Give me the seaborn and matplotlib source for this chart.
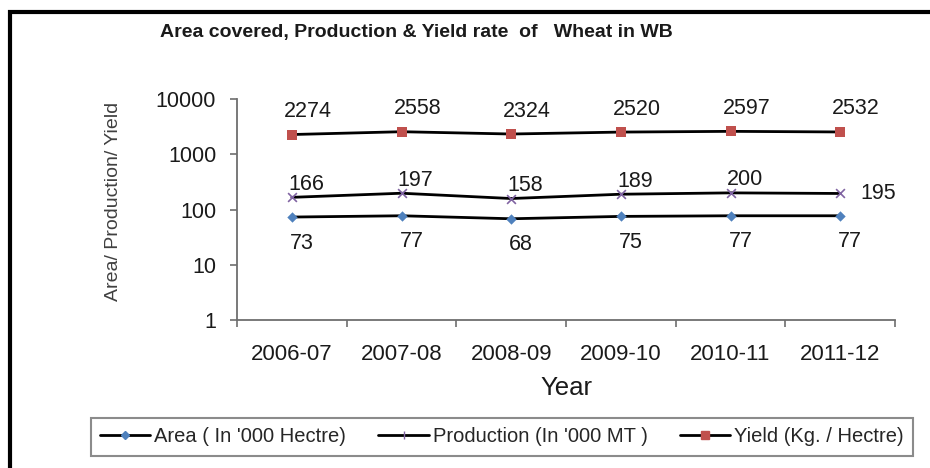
import matplotlib
matplotlib.use("Agg")
import matplotlib.pyplot as plt
import seaborn as sns
import pandas as pd
import numpy as np
from matplotlib.lines import Line2D
from matplotlib.patches import Rectangle

years = ["2006-07", "2007-08", "2008-09", "2009-10", "2010-11", "2011-12"]
area = [73, 77, 68, 75, 77, 77]
production = [166, 197, 158, 189, 200, 195]
yield_rate = [2274, 2558, 2324, 2520, 2597, 2532]
series_names = ["Area ( In '000 Hectre)", "Production (In '000 MT )", "Yield (Kg. / Hectre)"]

sns.set_theme(style="white")
plt.rcParams["font.family"] = ["Liberation Sans", "DejaVu Sans"]

fig = plt.figure(figsize=(9.3, 4.68), dpi=100)
ax = fig.add_axes([237/930, 1-320/468, (895-237)/930, (320-99)/468])

x = np.arange(len(years))
df = pd.DataFrame({
    "x": np.tile(x, 3),
    "value": area + production + yield_rate,
    "series": np.repeat(series_names, len(years)),
})

marker_colors = ["#4F81BD", "#8064A2", "#C0504D"]
markers = ["D", "x", "s"]
msizes = [28, 40, 60]

for name, mc, mk, ms in zip(series_names, marker_colors, markers, msizes):
    sub = df[df["series"] == name]
    sns.lineplot(data=sub, x="x", y="value", ax=ax, color="black", lw=2.0, legend=False)
    if mk == "x":
        sns.scatterplot(data=sub, x="x", y="value", ax=ax, color=mc, marker=mk, s=ms,
                        linewidth=1.2, legend=False, zorder=3)
    else:
        sns.scatterplot(data=sub, x="x", y="value", ax=ax, color=mc, marker=mk, s=ms,
                        edgecolor=mc, linewidth=0, legend=False, zorder=3)

ax.set_yscale("log")
ax.set_ylim(1, 10000)
ax.set_xlim(-0.5, len(years) - 0.5)

# data labels (offsets in pixels -> points)
k = 0.72
lab_fs = 15.5
for i, v in enumerate(yield_rate):
    ax.annotate(str(v), (x[i], v), xytext=(16*k, 23*k), textcoords="offset points",
                ha="center", va="center", fontsize=lab_fs, color="#1a1a1a")
for i, v in enumerate(production):
    off = (14*k, 13*k) if i < len(production) - 1 else (38*k, 0)
    ax.annotate(str(v), (x[i], v), xytext=off, textcoords="offset points",
                ha="center", va="center", fontsize=lab_fs, color="#1a1a1a")
for i, v in enumerate(area):
    ax.annotate(str(v), (x[i], v), xytext=(10*k, -26*k), textcoords="offset points",
                ha="center", va="center", fontsize=lab_fs, color="#1a1a1a")

# axes styling
for s in ["top", "right"]:
    ax.spines[s].set_visible(False)
for s in ["left", "bottom"]:
    ax.spines[s].set_color("#6e6e6e")
    ax.spines[s].set_linewidth(1.3)

ax.set_yticks([1, 10, 100, 1000, 10000])
ax.set_yticklabels(["1", "10", "100", "1000", "10000"])
ax.yaxis.set_minor_locator(matplotlib.ticker.NullLocator())
ax.tick_params(axis="y", which="major", direction="out", length=5, width=1.2,
               color="#6e6e6e", pad=10, labelsize=15.5, labelcolor="#1a1a1a", left=True)

ax.set_xticks(x)
ax.set_xticklabels(years)
ax.set_xticks(np.arange(-0.5, len(years)), minor=True)
ax.tick_params(axis="x", which="major", length=0, pad=17, labelsize=16, labelcolor="#1a1a1a")
ax.tick_params(axis="x", which="minor", direction="out", length=5, width=1.2,
               color="#6e6e6e", bottom=True)

ax.set_xlabel("Year", fontsize=18.5, color="#1a1a1a", labelpad=8)
ax.set_ylabel("")
fig.text(113/930, 1-201/468, "Area/ Production/ Yield", rotation=90, ha="center",
         va="center", fontsize=14, color="#404040")

fig.text(160/930, 1-33/468, "Area covered, Production & Yield rate  of   Wheat in WB",
         ha="left", va="center", fontsize=14, fontweight="bold", color="#1a1a1a")

# legend
handles = [Line2D([0], [0], color="black", lw=2, marker=mk, markersize=ms,
                  markerfacecolor=mc, markeredgecolor=mc)
           for mk, mc, ms in zip(["D", "|", "s"], marker_colors, [4, 6, 6])]
leg = fig.legend(handles, series_names, loc="center", ncol=3,
                 bbox_to_anchor=(502/930, 1-437/468), frameon=True, fancybox=False,
                 fontsize=14.5, handlelength=2.5, columnspacing=1.6, handletextpad=0.2,
                 borderpad=0.45)
leg.get_frame().set_edgecolor("#6e6e6e")
leg.get_frame().set_linewidth(1.5)

# outer frame
fig.patches.append(Rectangle((10/930, -0.2), 1.2, 1.2 - 12/468, transform=fig.transFigure,
                             fill=False, edgecolor="black", linewidth=3, zorder=0))

fig.savefig("out.png", dpi=100)
